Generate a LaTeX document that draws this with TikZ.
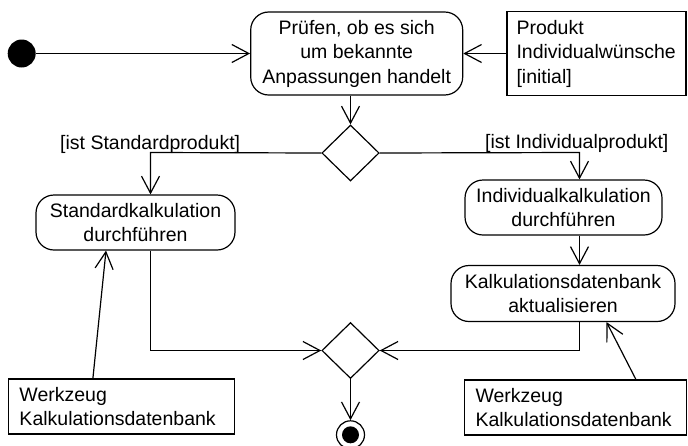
\documentclass[tikz,border=0pt]{standalone}
\usepackage{fontspec}
\setmainfont{Liberation Sans}
\usetikzlibrary{arrows.meta,shapes.geometric}
\begin{document}
\begin{tikzpicture}[x=1pt,y=-1pt,
  every node/.style={font=\fontsize{19.5}{24.5}\selectfont},
  action/.style={draw,line width=1.2pt,rounded corners=18pt,align=center,inner sep=0pt},
  objbox/.style={draw,line width=1.2pt,align=left,inner ysep=0pt},
  decision/.style={draw,line width=1.2pt,diamond,inner sep=0pt,minimum width=57.3pt,minimum height=56pt},
  arr/.style={line width=1.2pt,-{Straight Barb[length=17pt,width=18pt,line width=1.2pt]}},
  conn/.style={line width=1.2pt},
  guard/.style={anchor=base west,inner sep=0pt}]
\useasboundingbox (0,0) rectangle (688,445);

% nodes
\node[circle,fill=black,minimum size=28pt,inner sep=0pt] (init) at (21.7,53.5) {};
\node[action,minimum width=212pt,minimum height=83pt] (check) at (356.7,53.5)
  {Prüfen, ob es sich\\um bekannte\\Anpassungen handelt};
\node[objbox,minimum width=179pt,minimum height=84pt,text width=160pt,inner xsep=9.5pt] (prod) at (596.5,53.5)
  {Produkt\\Individualwünsche\\{}[initial]};
\node[decision] (d1) at (350.5,153) {};
\node[guard] (gstd) at (60,149) {[ist Standardprodukt]};
\node[guard] (gind) at (485,148) {[ist Individualprodukt]};
\node[action,minimum width=199pt,minimum height=55pt] (std) at (135.5,222.5)
  {Standardkalkulation\\durchführen};
\node[action,minimum width=197pt,minimum height=55pt] (ind) at (563.5,207.5)
  {Individualkalkulation\\durchführen};
\node[action,minimum width=224pt,minimum height=56pt] (kal) at (563,293.5)
  {Kalkulationsdatenbank\\aktualisieren};
\node[decision] (d2) at (350.5,350.5) {};
\node[circle,draw,line width=1.2pt,minimum size=28pt,inner sep=0pt] (fin) at (350.5,434.8) {};
\node[circle,fill=black,minimum size=17pt,inner sep=0pt] (finin) at (fin.center) {};
\node[objbox,minimum width=226pt,minimum height=55pt,text width=204pt,inner xsep=11pt] (wl) at (121.5,406.5)
  {Werkzeug\\Kalkulationsdatenbank};
\node[objbox,minimum width=222pt,minimum height=55pt,text width=200pt,inner xsep=11pt] (wr) at (575.5,407.5)
  {Werkzeug\\Kalkulationsdatenbank};

% bend points
\coordinate (sx) at (150.5,152.5);
\coordinate (ix) at (579.5,152.5);

% connectors
\draw[arr] (init) -- (check.west);
\draw[arr] (prod.west) -- (check.east);
\draw[arr] (d1.north |- check.south) -- (d1.north);
\draw[arr] (d1.west) -- (sx) -- (sx |- std.north);
\draw[arr] (d1.east) -- (ix) -- (ix |- ind.north);
\draw[arr] (ix |- ind.south) -- (ix |- kal.north);
\draw[arr] (sx |- std.south) |- (d2.west);
\draw[arr] (ix |- kal.south) |- (d2.east);
\draw[arr] (d2.south) -- (fin.north);
\draw[arr] ([xshift=85pt]wl.north west) -- ([xshift=-29.5pt]std.south);
\draw[arr] ([xshift=172pt]wr.north west) -- ([xshift=43.5pt]kal.south);
\end{tikzpicture}
\end{document}
